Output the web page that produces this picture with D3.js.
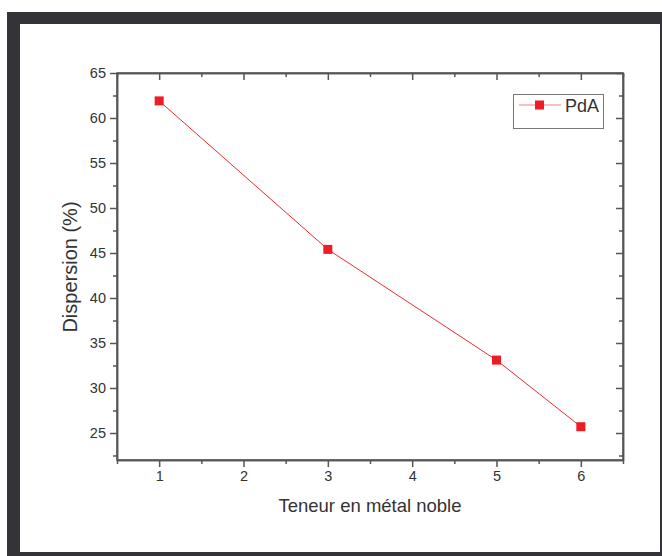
<!DOCTYPE html>
<html><head><meta charset="utf-8">
<script src="https://cdn.jsdelivr.net/npm/d3@7"></script>
<style>body{margin:0;background:#fff}svg{display:block}</style>
</head><body>
<svg id="c" width="662" height="556"></svg>
<script>
const xValues = [1, 3, 5, 6];
const dispersion = [61.9, 45.4, 33.1, 25.7];
const seriesName = "PdA";
const xTicks = [1, 2, 3, 4, 5, 6];
const yTicks = [25, 30, 35, 40, 45, 50, 55, 60, 65];
const xTitle = "Teneur en métal noble";
const yTitle = "Dispersion (%)";

const svg = d3.select("#c");
const W = 662, H = 556;
svg.append("rect").attr("x", 7).attr("y", 12).attr("width", W - 7).attr("height", H - 12).attr("fill", "#343438");
svg.append("rect").attr("x", 20).attr("y", 24).attr("width", 640).attr("height", 528).attr("fill", "#fff");

const L = 117, R = 623, T = 73, B = 460;
const x = d3.scaleLinear().domain([0.5, 6.5]).range([L, R]);
const y = d3.scaleLinear().domain([65 - (B - T) / 9, 65]).range([B, T]);
const axisColor = "#555";
const font = "'Liberation Sans', Arial, sans-serif";

const xMinor = d3.range(0.5, 6.51, 0.5).filter(v => !xTicks.includes(v));
const yMinor = d3.range(22.5, 65.1, 2.5).filter(v => !yTicks.includes(v) && y(v) <= B);

function styleAxis(g) {
  g.selectAll("path,line").attr("stroke", axisColor).attr("stroke-width", 1.5);
  g.selectAll("text").attr("fill", "#333").style("font-family", font).style("font-size", "14.5px");
}

// bottom
svg.append("g").attr("transform", `translate(0,${B})`)
  .call(d3.axisBottom(x).tickValues(xTicks).tickSize(7).tickSizeOuter(0).tickPadding(4).tickFormat(d3.format("d")))
  .call(styleAxis);
svg.append("g").attr("transform", `translate(0,${B})`)
  .call(d3.axisBottom(x).tickValues(xMinor).tickSize(4).tickSizeOuter(0).tickFormat(""))
  .call(styleAxis);
// top
svg.append("g").attr("transform", `translate(0,${T})`)
  .call(d3.axisBottom(x).tickValues(xTicks).tickSize(7).tickSizeOuter(0).tickFormat(""))
  .call(styleAxis);
svg.append("g").attr("transform", `translate(0,${T})`)
  .call(d3.axisBottom(x).tickValues(xMinor).tickSize(4).tickSizeOuter(0).tickFormat(""))
  .call(styleAxis);
// left
svg.append("g").attr("transform", `translate(${L},0)`)
  .call(d3.axisLeft(y).tickValues(yTicks).tickSize(7).tickSizeOuter(0).tickPadding(4).tickFormat(d3.format("d")))
  .call(styleAxis);
svg.append("g").attr("transform", `translate(${L},0)`)
  .call(d3.axisLeft(y).tickValues(yMinor).tickSize(4).tickSizeOuter(0).tickFormat(""))
  .call(styleAxis);
// right
svg.append("g").attr("transform", `translate(${R},0)`)
  .call(d3.axisLeft(y).tickValues(yTicks).tickSize(7).tickSizeOuter(0).tickFormat(""))
  .call(styleAxis);
svg.append("g").attr("transform", `translate(${R},0)`)
  .call(d3.axisLeft(y).tickValues(yMinor).tickSize(4).tickSizeOuter(0).tickFormat(""))
  .call(styleAxis);
// frame lines
svg.append("rect").attr("x", L).attr("y", T).attr("width", R - L).attr("height", B - T)
  .attr("fill", "none").attr("stroke", axisColor).attr("stroke-width", 1.5);

const data = xValues.map((v, i) => ({x: v, y: dispersion[i]}));
svg.append("path").datum(data)
  .attr("d", d3.line().x(d => x(d.x)).y(d => y(d.y)))
  .attr("fill", "none").attr("stroke", "#ee2a2a").attr("stroke-width", 1);
svg.selectAll("rect.pt").data(data).join("rect").attr("class", "pt")
  .attr("x", d => x(d.x) - 4.5).attr("y", d => y(d.y) - 4.5)
  .attr("width", 9).attr("height", 9).attr("fill", "#ee1c25");

// legend
const lg = svg.append("g");
lg.append("rect").attr("x", 513.5).attr("y", 94.5).attr("width", 90).attr("height", 34)
  .attr("fill", "#fff").attr("stroke", "#777").attr("stroke-width", 1);
lg.append("line").attr("x1", 519).attr("x2", 561).attr("y1", 105).attr("y2", 105)
  .attr("stroke", "#f08080").attr("stroke-width", 1.2);
lg.append("rect").attr("x", 535).attr("y", 100.5).attr("width", 9).attr("height", 9).attr("fill", "#ee1c25");
lg.append("text").attr("x", 565).attr("y", 112).text(seriesName)
  .attr("fill", "#333").style("font-family", font).style("font-size", "18px");

svg.append("text").attr("x", 370).attr("y", 512).attr("text-anchor", "middle").text(xTitle)
  .attr("fill", "#333").style("font-family", font).style("font-size", "18.5px");
svg.append("text").attr("transform", "translate(77,267) rotate(-90)").attr("text-anchor", "middle").text(yTitle)
  .attr("fill", "#333").style("font-family", font).style("font-size", "20px");
</script>
</body></html>
